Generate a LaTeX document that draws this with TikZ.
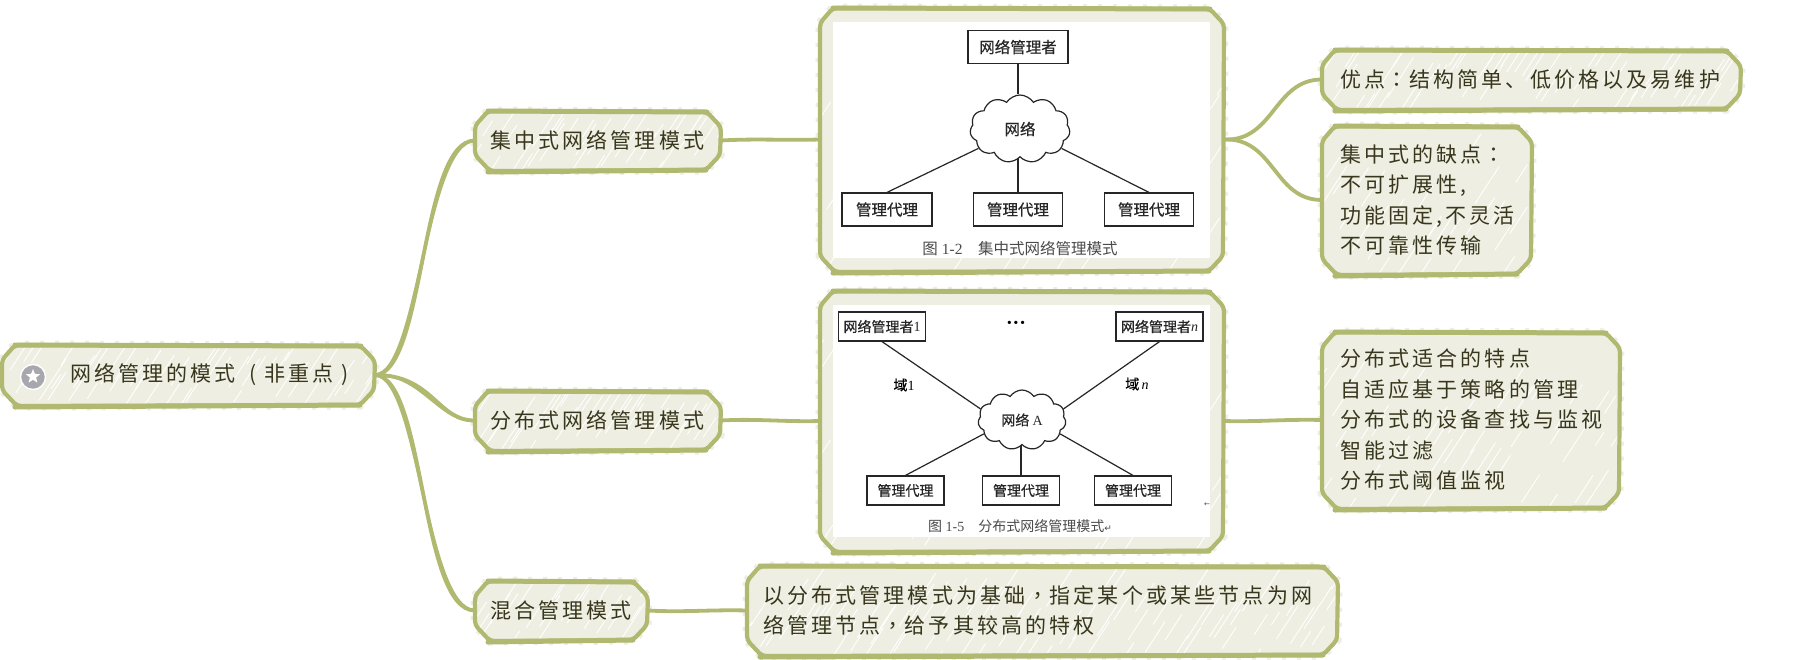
\documentclass[tikz,border=0pt]{standalone}
\usepackage{fontspec}
\usetikzlibrary{shapes.geometric,shapes.symbols,calc}
\setmainfont{Liberation Serif}
\newfontfamily\hand[LetterSpace=15]{Noto Sans CJK SC}
\newfontfamily\handtc{Noto Sans CJK TC}
\newfontfamily\lab[FakeBold=0.5]{Noto Sans CJK SC}
\newfontfamily\capf{Noto Sans CJK SC}
\newfontfamily\sym{DejaVu Sans}
\newcommand{\cpunct}[1]{\makebox[24.15pt][c]{\handtc #1}}
\definecolor{edgec}{HTML}{B0B96F}
\definecolor{fillc}{HTML}{EEEEE2}
\definecolor{txtc}{HTML}{38361C}
\definecolor{capc}{HTML}{4A4A4A}
\definecolor{iconc}{HTML}{A7A7AE}
\tikzset{
  conn/.style={draw=edgec,line width=3.8pt,line cap=round},
  fig/.style={draw=black!85,line width=1.2pt,inner sep=0pt,text=black!85},
  figline/.style={draw=black!85,line width=1.2pt},
  figcloud/.style={cloud,cloud puffs=11,cloud puff arc=115,aspect=1.45,draw=black!85,line width=1.2pt,inner sep=0pt,text=black!85},
  panel/.style={fill=white,inner sep=0pt},
  figcap/.style={inner sep=0pt,text=capc},
  biga/.style={font=\fontsize{15.5}{18}\selectfont\lab},
  bigb/.style={font=\fontsize{14}{16}\selectfont\lab}
}
% name x1 y1 x2 y2 pad text
\newcommand{\skbox}[7]{%
  \pgfmathsetmacro\xa{#2}\pgfmathsetmacro\ya{#3}\pgfmathsetmacro\xb{#4}\pgfmathsetmacro\yb{#5}%
  \pgfmathsetmacro\wid{\xb-\xa}\pgfmathsetmacro\hei{\yb-\ya}%
  \pgfmathsetmacro\cxx{(\xa+\xb)/2}\pgfmathsetmacro\cyy{(\ya+\yb)/2}%
  \def\cc{15}%
  \def\poly{(\xa,\ya+\cc) -- (\xa+\cc-2,\ya) -- (\xb-\cc+1,\ya+1) -- (\xb,\ya+\cc+1) -- (\xb-1,\yb-\cc) -- (\xb-\cc,\yb) -- (\xa+\cc,\yb+1) -- (\xa,\yb-\cc) -- cycle}%
  \draw[fillc,line width=9pt,dash pattern=on 4pt off 11pt] \poly;
  \begin{scope}
    \path[clip] \poly;
    \fill[fillc] (\xa,\ya) rectangle (\xb,\yb);
    \pgfmathtruncatemacro\nn{(\wid+\hei)/7}%
    \foreach \i in {0,...,\nn}{%
      \pgfmathsetmacro\sx{\xa-0.6*\hei+\i*7+rnd*5}%
      \pgfmathsetmacro\sy{\ya+\hei*(0.25+0.85*rnd)}%
      \pgfmathsetmacro\ln{12+30*rnd}%
      \draw[white,line width=0.9pt] (\sx,\sy) -- +(0.65*\ln,-\ln);
    }
  \end{scope}
  \draw[edgec,line width=4.2pt,rounded corners=4pt] \poly;
  \draw[edgec,line width=5pt,line cap=round] (\xa+\cc-2,\ya) -- (\xb-\cc+1,\ya+1);
  \draw[edgec,line width=5pt,line cap=round] (\xa+\cc-2,\yb+2) -- (\xb-\cc,\yb);
  \node (#1) [inner sep=0pt,minimum width=\wid pt,minimum height=\hei pt] at (\cxx,\cyy)
    {\hspace*{#6pt}\begin{minipage}{\dimexpr\wid pt-#6pt\relax}\fontsize{21}{30.5}\selectfont\hand\color{txtc}#7\end{minipage}};
}
\begin{document}
\begin{tikzpicture}[x=1pt,y=-1pt]
\pgfmathsetseed{1234}
\fill[white] (0,0) rectangle (1799,659);
\useasboundingbox (0,0) rectangle (1799,659);

\skbox{root}{2}{345}{375}{405}{68}{网络管理的模式 \hspace{6pt}( 非重点 )}
\skbox{central}{475}{111}{721}{170}{15}{集中式网络管理模式}
\skbox{dist}{475}{391}{721}{450}{15}{分布式网络管理模式}
\skbox{hybrid}{475}{581}{648}{640}{15}{混合管理模式}
\skbox{figa}{820}{8}{1224}{271}{0}{}
\skbox{figb}{820}{291}{1224}{551}{0}{}
\skbox{pros}{1322}{50}{1741}{109}{18}{优点\cpunct{：}结构简单、低价格以及易维护}
\skbox{cons}{1322}{126}{1532}{274}{18}{集中式的缺点\cpunct{：}\\不可扩展性,\\功能固定,不灵活\\不可靠性传输}
\skbox{traits}{1322}{332}{1620}{508}{18}{分布式适合的特点\\自适应基于策略的管理\\分布式的设备查找与监视\\智能过滤\\分布式阈值监视}
\skbox{hyb}{747}{566}{1338}{655}{16}{以分布式管理模式为基础\cpunct{，}指定某个或某些节点为网\\络管理节点\cpunct{，}给予其较高的特权}

% root icon
\node (icon) [circle,fill=iconc,draw=white,line width=1.4pt,minimum size=25pt,inner sep=0pt] at (33,377) {};
\node (iconstar) [star,star points=5,star point ratio=2.3,fill=white,minimum size=15pt,inner sep=0pt] at (33,376.5) {};

% main connectors
\draw[conn] (root.east) .. controls +(50,-2) and +(-55,0) .. (central.west);
\draw[conn,line width=3pt] (root.east) .. controls +(44,-2) and +(-50,2) .. (central.west);
\draw[conn] (root.east) .. controls +(58,0) and +(-38,0) .. (dist.west);
\draw[conn,line width=3pt] (root.east) .. controls +(45,-3) and +(-35,2) .. (dist.west);
\draw[conn] (root.east) .. controls +(50,2) and +(-55,0) .. (hybrid.west);
\draw[conn,line width=3pt] (root.east) .. controls +(44,2) and +(-50,-2) .. (hybrid.west);
\draw[conn] (central.east) .. controls +(35,-2) and +(-35,1) .. (figa.west);
\draw[conn] (dist.east) .. controls +(35,-2) and +(-35,1) .. (figb.west);
\draw[conn] (hybrid.east) .. controls +(35,2) and +(-35,-1) .. (hyb.west);
\draw[conn] (figb.east) .. controls +(35,1) and +(-35,-1) .. (traits.west);
\draw[conn] (figa.east) .. controls +(50,2) and +(-48,0) .. (pros.west);
\draw[conn] (figa.east) .. controls +(50,-2) and +(-48,0) .. (cons.west);

% figure 1-2
\node (pica) [panel,minimum width=377pt,minimum height=236pt] at (1021.5,140) {};
\node (amgr) [fig,biga,minimum width=100pt,minimum height=33pt] at (1018,47) {网络管理者};
\node (acloud) [figcloud,biga,minimum width=100pt,minimum height=68pt] at (1020,129) {网络};
\node (aag1) [fig,biga,minimum width=90pt,minimum height=33pt] at (887,209.5) {管理代理};
\node (aag2) [fig,biga,minimum width=89pt,minimum height=33pt] at (1018,209.5) {管理代理};
\node (aag3) [fig,biga,minimum width=89pt,minimum height=33pt] at (1149,209.5) {管理代理};
\draw[figline] (amgr.south) -- (acloud.north -| amgr.south);
\draw[figline] (aag1.north) -- (acloud.205);
\draw[figline] (aag2.north) -- (acloud.south -| aag2.north);
\draw[figline] (aag3.north) -- (acloud.335);
\node (capa) [figcap,font=\fontsize{15.5}{18}\selectfont] at (1020,249) {{\capf 图} 1-2\hspace{1em}{\capf 集中式网络管理模式}};

% figure 1-5
\node (picb) [panel,minimum width=377pt,minimum height=232pt] at (1021.5,421) {};
\node (bmg1) [fig,bigb,minimum width=87pt,minimum height=29pt] at (882,326.5) {网络管理者{\rmfamily 1}};
\node (bmg2) [fig,bigb,minimum width=87pt,minimum height=29pt] at (1159.5,326.5) {网络管理者{\rmfamily\itshape n}};
\node (bdots) [inner sep=0pt,font=\fontsize{20}{20}\selectfont\bfseries] at (1016,325) {···};
\node (bdom1) [bigb,inner sep=0pt] at (904,385) {域{\rmfamily 1}};
\node (bdomn) [bigb,inner sep=0pt] at (1137,384) {域\,{\rmfamily\itshape n}};
\node (bcloud) [figcloud,bigb,minimum width=88pt,minimum height=60pt] at (1022,420) {网络 {\rmfamily A}};
\node (bag1) [fig,bigb,minimum width=77pt,minimum height=29pt] at (905.5,490.5) {管理代理};
\node (bag2) [fig,bigb,minimum width=77pt,minimum height=29pt] at (1021,490.5) {管理代理};
\node (bag3) [fig,bigb,minimum width=77pt,minimum height=29pt] at (1133,490.5) {管理代理};
\draw[figline] (bmg1.south) -- (bcloud.165);
\draw[figline] (bmg2.south) -- (bcloud.15);
\draw[figline] (bag1.north) -- (bcloud.200);
\draw[figline] (bag2.north) -- (bcloud.south -| bag2.north);
\draw[figline] (bag3.north) -- (bcloud.340);
\node (capb) [figcap,font=\fontsize{14}{16}\selectfont] at (1020,526) {{\capf 图} 1-5\hspace{1em}{\capf 分布式网络管理模式}{\sym\fontsize{9}{10}\selectfont ↵}};
\node (bmark) [inner sep=0pt,text=capc,font=\sym\fontsize{7}{8}\selectfont] at (1207,505) {←};
\end{tikzpicture}
\end{document}
